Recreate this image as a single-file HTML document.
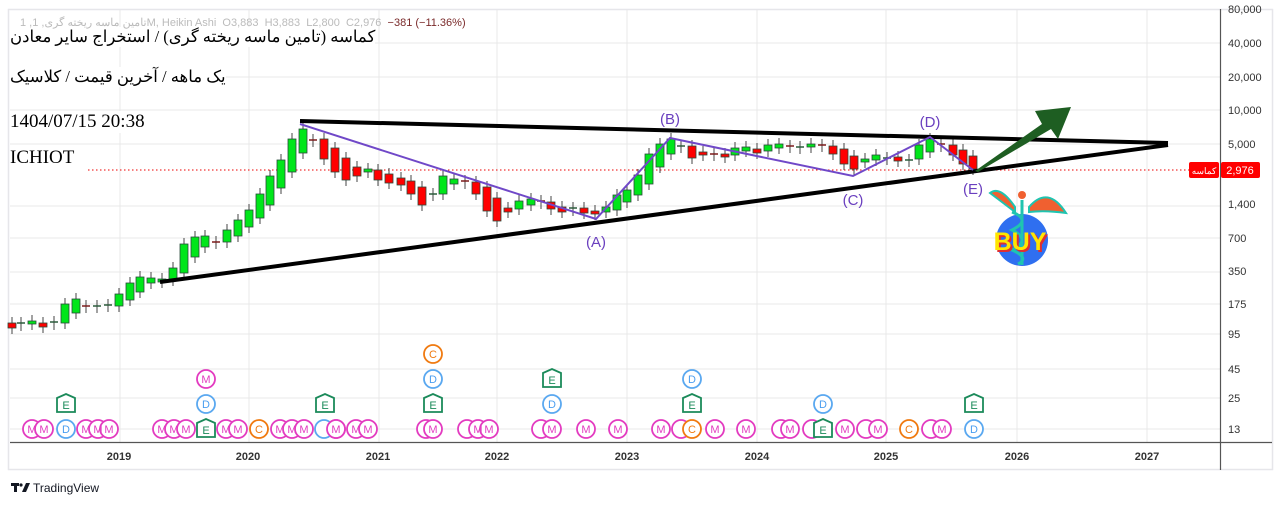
<!DOCTYPE html>
<html><head><meta charset="utf-8"><style>
html,body{margin:0;padding:0;background:#fff;}
body{width:1282px;height:505px;overflow:hidden;position:relative;font-family:"Liberation Sans",sans-serif;}
.t{position:absolute;font-family:"Liberation Serif","Noto Serif CJK SC",serif;color:#000;font-size:19px;background:#fff;white-space:nowrap;}
</style></head><body>
<svg width="1282" height="505" style="position:absolute;left:0;top:0" font-family="Liberation Sans, sans-serif">
<rect x="8.5" y="9.5" width="1264" height="460" fill="none" stroke="#e6e6ea" stroke-width="1.5"/>
<g stroke="#e8e8e8" stroke-width="1">
<line x1="10" x2="1220" y1="43" y2="43"/><line x1="10" x2="1220" y1="77" y2="77"/><line x1="10" x2="1220" y1="110" y2="110"/><line x1="10" x2="1220" y1="144" y2="144"/><line x1="10" x2="1220" y1="206" y2="206"/><line x1="10" x2="1220" y1="238" y2="238"/><line x1="10" x2="1220" y1="272" y2="272"/><line x1="10" x2="1220" y1="304" y2="304"/><line x1="10" x2="1220" y1="334" y2="334"/><line x1="10" x2="1220" y1="369" y2="369"/><line x1="10" x2="1220" y1="398" y2="398"/><line x1="10" x2="1220" y1="429" y2="429"/>
<line y1="10" y2="442" x1="120" x2="120"/><line y1="10" y2="442" x1="249" x2="249"/><line y1="10" y2="442" x1="379" x2="379"/><line y1="10" y2="442" x1="497" x2="497"/><line y1="10" y2="442" x1="627" x2="627"/><line y1="10" y2="442" x1="757" x2="757"/><line y1="10" y2="442" x1="886" x2="886"/><line y1="10" y2="442" x1="1017" x2="1017"/><line y1="10" y2="442" x1="1147" x2="1147"/>
</g>
<line x1="10" x2="1272" y1="442.5" y2="442.5" stroke="#555" stroke-width="1.2"/>
<line x1="1220.5" x2="1220.5" y1="9" y2="470" stroke="#555" stroke-width="1.2"/>
<g font-size="11" fill="#333">
<text x="1228" y="13">80,000</text><text x="1228" y="47">40,000</text><text x="1228" y="81">20,000</text><text x="1228" y="114">10,000</text><text x="1228" y="148">5,000</text><text x="1228" y="208">1,400</text><text x="1228" y="242">700</text><text x="1228" y="275">350</text><text x="1228" y="308">175</text><text x="1228" y="338">95</text><text x="1228" y="373">45</text><text x="1228" y="402">25</text><text x="1228" y="433">13</text>
</g>
<g font-size="11" fill="#333" text-anchor="middle" font-weight="bold">
<text x="119" y="460">2019</text><text x="248" y="460">2020</text><text x="378" y="460">2021</text><text x="497" y="460">2022</text><text x="627" y="460">2023</text><text x="757" y="460">2024</text><text x="886" y="460">2025</text><text x="1017" y="460">2026</text><text x="1147" y="460">2027</text>
</g>
<line x1="88" x2="1190" y1="170" y2="170" stroke="#e00" stroke-width="1" stroke-dasharray="1.5,2.5"/>
<g id="candles"></g>
<line x1="300" y1="121" x2="1168" y2="143" stroke="#000" stroke-width="4"/>
<line x1="160" y1="282" x2="1168" y2="145" stroke="#000" stroke-width="4"/>
<polyline points="300,124 596,219 670,138 853,176 930,137 973,170" fill="none" stroke="#7048c8" stroke-width="2"/>
<g font-size="15" fill="#6a3fbf" text-anchor="middle">
<text x="596" y="247">(A)</text><text x="670" y="124">(B)</text><text x="853" y="205">(C)</text><text x="930" y="127">(D)</text><text x="973" y="194">(E)</text>
</g>
<polygon points="975,171 1042,124 1035,111 1071,107 1058,139 1051,129 978,172" fill="#1e5e22"/>
<circle cx="1022" cy="240" r="26" fill="#2f6ff0"/>
<path d="M1015,207 Q1000,185 990,193 Q1002,202 1015,212Z" fill="#f06030" stroke="#1fc4b0" stroke-width="2"/>
<path d="M1029,207 Q1048,185 1066,213 Q1045,210 1029,212Z" fill="#f06030" stroke="#1fc4b0" stroke-width="2"/>
<g fill="none" stroke="#1fc4b0" stroke-width="3">
<line x1="1022" y1="200" x2="1022" y2="265"/><path d="M1012,212 Q1032,220 1012,230 Q1032,240 1012,250 Q1030,258 1018,264"/>
</g>
<circle cx="1022" cy="195" r="4" fill="#f06030"/>
<text x="1022" y="252" text-anchor="middle" font-size="25" font-weight="bold" fill="#e03030">BUY</text>
<text x="1020" y="250" text-anchor="middle" font-size="25" font-weight="bold" fill="#ffe600">BUY</text>
<rect x="1189" y="162" width="30" height="16" rx="2" fill="#f00"/>
<text x="1204" y="174" font-size="9" fill="#fff" text-anchor="middle" font-family="Liberation Sans, Noto Sans CJK SC, sans-serif">کماسه</text>
<rect x="1221" y="162" width="39" height="16" rx="2" fill="#f00"/>
<text x="1240" y="174" font-size="11" fill="#fff" text-anchor="middle">2,976</text>
<g fill="#131722"><rect x="11" y="483" width="8" height="3"/><rect x="14" y="483" width="3" height="9"/><circle cx="21" cy="485" r="1.6"/><polygon points="22,492 26,483 30,483 26,492"/></g>
<text x="33" y="492" font-size="12" fill="#131722">TradingView</text>
</svg>
<div class="t" style="left:10px;top:27px;font-size:16.5px;">کماسه (تامین ماسه ریخته گری) / استخراج سایر معادن</div>
<div class="t" style="left:10px;top:67px;font-size:16.5px;">یک ماهه / آخرین قیمت / کلاسیک</div>
<div class="t" style="left:10px;top:111px;">1404/07/15 20:38</div>
<div class="t" style="left:10px;top:147px;">ICHIOT</div>
<div style="position:absolute;left:20px;top:16px;font-size:11px;color:#bbb;white-space:nowrap;font-family:'Liberation Sans','Noto Sans CJK SC',sans-serif;">1 ,تامین ماسه ریخته گری, 1M, Heikin Ashi &nbsp;O3,883 &nbsp;H3,883 &nbsp;L2,800 &nbsp;C2,976 <span style="color:#7a2a2a">&nbsp;−381 (−11.36%)</span></div>
<script>
var C=[[12,323,328,'r'],[21,323,325,'g'],[32,321,324,'g'],[43,323,327,'r'],[54,322,324,'g'],[65,304,323,'g'],[76,299,313,'g'],[86,306,307,'r'],[97,306,307,'g'],[108,305,306,'g'],[119,294,306,'g'],[130,283,300,'g'],[140,277,292,'g'],[151,278,283,'g'],[162,279,282,'g'],[173,268,280,'g'],[184,244,273,'g'],[195,237,257,'g'],[205,236,247,'g'],[216,242,243,'r'],[227,230,242,'g'],[238,220,236,'g'],[249,210,227,'g'],[260,194,218,'g'],[270,176,205,'g'],[281,160,188,'g'],[292,139,172,'g'],[303,129,153,'g'],[313,140,141,'r'],[324,139,159,'r'],[335,148,172,'r'],[346,158,180,'r'],[357,167,176,'r'],[368,169,172,'g'],[378,170,180,'r'],[389,174,183,'r'],[401,178,185,'r'],[411,181,194,'r'],[422,187,205,'r'],[433,194,195,'g'],[443,176,194,'g'],[454,179,184,'g'],[465,181,183,'r'],[476,182,194,'r'],[487,187,211,'r'],[497,198,221,'r'],[508,208,212,'r'],[519,201,209,'g'],[531,199,205,'g'],[541,201,203,'r'],[551,202,209,'r'],[562,207,212,'r'],[573,208,210,'g'],[584,208,213,'r'],[595,211,214,'r'],[606,207,212,'g'],[617,195,210,'g'],[627,190,202,'g'],[638,175,195,'g'],[649,154,184,'g'],[660,144,167,'g'],[671,139,154,'g'],[681,146,147,'g'],[692,146,158,'r'],[703,152,155,'r'],[714,154,155,'r'],[725,154,157,'r'],[735,148,155,'g'],[746,147,151,'g'],[757,149,153,'r'],[768,145,151,'g'],[779,144,148,'g'],[790,146,147,'r'],[800,147,148,'g'],[811,144,147,'g'],[822,145,146,'r'],[833,146,154,'r'],[844,149,164,'r'],[854,156,169,'r'],[865,159,162,'g'],[876,155,160,'g'],[887,158,159,'g'],[898,157,161,'r'],[909,160,161,'g'],[919,145,159,'g'],[930,139,152,'g'],[941,144,146,'r'],[953,145,155,'r'],[963,150,164,'r'],[973,156,169,'r']];
var s='';
C.forEach(function(c){var x=c[0],t=c[1],b=c[2],f=c[3]=='g'?'#00e61a':'#f00',h=b-t<2?2:b-t;
s+='<line x1="'+x+'" x2="'+x+'" y1="'+(t-6)+'" y2="'+(b+6)+'" stroke="#444" stroke-width="1"/>';
if(h<=2)s+='<line x1="'+(x-4)+'" x2="'+(x+4)+'" y1="'+t+'" y2="'+t+'" stroke="'+(c[3]=='g'?'#2a5a3a':'#7a1a1a')+'" stroke-width="1.5"/>';
else s+='<rect x="'+(x-4)+'" y="'+t+'" width="8" height="'+h+'" fill="'+f+'" stroke="#2a4a3a" stroke-width="0.8"/>';});
document.getElementById('candles').innerHTML=s;
</script>
<svg width="1282" height="505" style="position:absolute;left:0;top:0" font-family="Liberation Sans, sans-serif" font-size="11" text-anchor="middle">
<g fill="#fff" stroke="#e33bc0" stroke-width="1.8">
<circle cx="32" cy="429" r="9"/><circle cx="44" cy="429" r="9"/><circle cx="86" cy="429" r="9"/><circle cx="98" cy="429" r="9"/><circle cx="109" cy="429" r="9"/><circle cx="162" cy="429" r="9"/><circle cx="174" cy="429" r="9"/><circle cx="186" cy="429" r="9"/><circle cx="226" cy="429" r="9"/><circle cx="238" cy="429" r="9"/><circle cx="280" cy="429" r="9"/><circle cx="292" cy="429" r="9"/><circle cx="304" cy="429" r="9"/><circle cx="336" cy="429" r="9"/><circle cx="356" cy="429" r="9"/><circle cx="368" cy="429" r="9"/><circle cx="426" cy="429" r="9"/><circle cx="433" cy="429" r="9"/><circle cx="467" cy="429" r="9"/><circle cx="478" cy="429" r="9"/><circle cx="489" cy="429" r="9"/><circle cx="541" cy="429" r="9"/><circle cx="552" cy="429" r="9"/><circle cx="586" cy="429" r="9"/><circle cx="618" cy="429" r="9"/><circle cx="661" cy="429" r="9"/><circle cx="681" cy="429" r="9"/><circle cx="715" cy="429" r="9"/><circle cx="746" cy="429" r="9"/><circle cx="781" cy="429" r="9"/><circle cx="790" cy="429" r="9"/><circle cx="812" cy="429" r="9"/><circle cx="845" cy="429" r="9"/><circle cx="866" cy="429" r="9"/><circle cx="878" cy="429" r="9"/><circle cx="931" cy="429" r="9"/><circle cx="942" cy="429" r="9"/><circle cx="206" cy="379" r="9"/>
</g>
<g fill="#e33bc0">
<text x="32" y="433">M</text><text x="44" y="433">M</text><text x="86" y="433">M</text><text x="98" y="433">M</text><text x="109" y="433">M</text><text x="162" y="433">M</text><text x="174" y="433">M</text><text x="186" y="433">M</text><text x="226" y="433">M</text><text x="238" y="433">M</text><text x="280" y="433">M</text><text x="292" y="433">M</text><text x="304" y="433">M</text><text x="336" y="433">M</text><text x="356" y="433">M</text><text x="368" y="433">M</text><text x="433" y="433">M</text><text x="478" y="433">M</text><text x="489" y="433">M</text><text x="552" y="433">M</text><text x="586" y="433">M</text><text x="618" y="433">M</text><text x="661" y="433">M</text><text x="715" y="433">M</text><text x="746" y="433">M</text><text x="790" y="433">M</text><text x="845" y="433">M</text><text x="878" y="433">M</text><text x="942" y="433">M</text><text x="206" y="383">M</text>
</g>
<g fill="#fff" stroke="#5aa8f0" stroke-width="1.8">
<circle cx="66" cy="429" r="9"/><circle cx="324" cy="429" r="9"/><circle cx="974" cy="429" r="9"/><circle cx="206" cy="404" r="9"/><circle cx="552" cy="404" r="9"/><circle cx="823" cy="404" r="9"/><circle cx="433" cy="379" r="9"/><circle cx="692" cy="379" r="9"/>
</g>
<g fill="#4a9ef0"><text x="66" y="433">D</text><text x="974" y="433">D</text><text x="206" y="408">D</text><text x="552" y="408">D</text><text x="823" y="408">D</text><text x="433" y="383">D</text><text x="692" y="383">D</text></g>
<circle cx="336" cy="429" r="9" fill="#fff" stroke="#e33bc0" stroke-width="1.8"/><text x="336" y="433" fill="#e33bc0">M</text>
<g fill="#fff" stroke="#f07a10" stroke-width="1.8"><circle cx="259" cy="429" r="9"/><circle cx="692" cy="429" r="9"/><circle cx="909" cy="429" r="9"/><circle cx="433" cy="354" r="9"/></g>
<g fill="#f07a10"><text x="259" y="433">C</text><text x="692" y="433">C</text><text x="909" y="433">C</text><text x="433" y="358">C</text></g>
<g fill="#fff" stroke="#1b8a5a" stroke-width="1.8">
<path d="M57,398 L66,394 L75,398 V412 H57Z"/><path d="M197,423 L206,419 L215,423 V437 H197Z"/><path d="M316,398 L325,394 L334,398 V412 H316Z"/><path d="M424,398 L433,394 L442,398 V412 H424Z"/><path d="M543,373 L552,369 L561,373 V387 H543Z"/><path d="M683,398 L692,394 L701,398 V412 H683Z"/><path d="M814,423 L823,419 L832,423 V437 H814Z"/><path d="M965,398 L974,394 L983,398 V412 H965Z"/>
</g>
<g fill="#1b8a5a"><text x="66" y="409">E</text><text x="206" y="434">E</text><text x="325" y="409">E</text><text x="433" y="409">E</text><text x="552" y="384">E</text><text x="692" y="409">E</text><text x="823" y="434">E</text><text x="974" y="409">E</text></g>
</svg>
</body></html>
